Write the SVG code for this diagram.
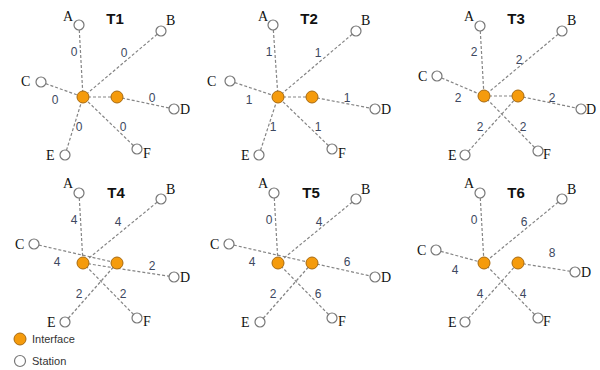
<svg xmlns="http://www.w3.org/2000/svg" width="600" height="370" viewBox="0 0 600 370">
<style>
.e{stroke:#858585;stroke-width:1.2;stroke-dasharray:3,2;fill:none}
.s{fill:#fff;stroke:#777;stroke-width:1.2}
.i{fill:#f59b0c;stroke:#a86a10;stroke-width:1}
.n{font-family:"Liberation Serif",serif;font-size:14px;fill:#111}
.t{font-family:"Liberation Sans",Arial,sans-serif;font-size:15px;font-weight:bold;fill:#111;text-anchor:middle}
.w{font-family:"Liberation Sans",Arial,sans-serif;font-size:12px;fill:#3d4860;text-anchor:middle}
.l{font-family:"Liberation Sans",Arial,sans-serif;font-size:11px;fill:#333}
</style>
<rect width="600" height="370" fill="#fff"/>
<g id="connectors">
<line class="e" x1="79" y1="25" x2="83" y2="97"/>
<line class="e" x1="161" y1="31" x2="83" y2="97"/>
<line class="e" x1="41" y1="82" x2="83" y2="97"/>
<line class="e" x1="83" y1="97" x2="117" y2="97"/>
<line class="e" x1="117" y1="97" x2="174" y2="109"/>
<line class="e" x1="65" y1="155" x2="83" y2="97"/>
<line class="e" x1="137" y1="149" x2="83" y2="97"/>
<line class="e" x1="273" y1="25" x2="278" y2="97"/>
<line class="e" x1="356" y1="31" x2="278" y2="97"/>
<line class="e" x1="230" y1="81" x2="278" y2="97"/>
<line class="e" x1="278" y1="97" x2="312" y2="97"/>
<line class="e" x1="312" y1="97" x2="375" y2="109"/>
<line class="e" x1="259" y1="155" x2="278" y2="97"/>
<line class="e" x1="332" y1="149" x2="278" y2="97"/>
<line class="e" x1="480" y1="26" x2="484" y2="96"/>
<line class="e" x1="562" y1="31" x2="484" y2="96"/>
<line class="e" x1="437" y1="76" x2="484" y2="96"/>
<line class="e" x1="484" y1="96" x2="518" y2="96"/>
<line class="e" x1="518" y1="96" x2="581" y2="109"/>
<line class="e" x1="465" y1="155" x2="518" y2="96"/>
<line class="e" x1="538" y1="151" x2="484" y2="96"/>
<line class="e" x1="79" y1="193" x2="83" y2="263"/>
<line class="e" x1="161" y1="199" x2="83" y2="263"/>
<line class="e" x1="34" y1="244" x2="117" y2="263"/>
<line class="e" x1="83" y1="263" x2="174" y2="277"/>
<line class="e" x1="65" y1="322" x2="117" y2="263"/>
<line class="e" x1="137" y1="318" x2="83" y2="263"/>
<line class="e" x1="274" y1="193" x2="278" y2="263"/>
<line class="e" x1="356" y1="199" x2="278" y2="263"/>
<line class="e" x1="229" y1="244" x2="312" y2="263"/>
<line class="e" x1="312" y1="263" x2="375" y2="277"/>
<line class="e" x1="260" y1="322" x2="312" y2="263"/>
<line class="e" x1="332" y1="318" x2="278" y2="263"/>
<line class="e" x1="480" y1="193" x2="484" y2="263"/>
<line class="e" x1="562" y1="199" x2="484" y2="263"/>
<line class="e" x1="436" y1="250" x2="484" y2="263"/>
<line class="e" x1="518" y1="263" x2="575" y2="272"/>
<line class="e" x1="465" y1="322" x2="518" y2="263"/>
<line class="e" x1="538" y1="318" x2="484" y2="263"/>
</g>
<g id="T1">
<text class="t" x="115" y="24">T1</text>
<circle class="s" cx="79" cy="25" r="5"/><text class="n" x="63" y="21">A</text>
<circle class="s" cx="161" cy="31" r="5"/><text class="n" x="166" y="25">B</text>
<circle class="s" cx="41" cy="82" r="5"/><text class="n" x="21" y="86">C</text>
<circle class="s" cx="174" cy="109" r="5"/><text class="n" x="180" y="114">D</text>
<circle class="s" cx="65" cy="155" r="5"/><text class="n" x="46" y="160">E</text>
<circle class="s" cx="137" cy="149" r="5"/><text class="n" x="143" y="158">F</text>
<circle class="i" cx="83" cy="97" r="6"/><circle class="i" cx="117" cy="97" r="6"/>
<text class="w" x="74" y="56">0</text><text class="w" x="124" y="57">0</text>
<text class="w" x="55" y="104">0</text><text class="w" x="152" y="102">0</text>
<text class="w" x="79" y="131">0</text><text class="w" x="123" y="131">0</text>
</g>
<g id="T2">
<text class="t" x="309" y="24">T2</text>
<circle class="s" cx="273" cy="25" r="5"/><text class="n" x="258" y="21">A</text>
<circle class="s" cx="356" cy="31" r="5"/><text class="n" x="361" y="25">B</text>
<circle class="s" cx="230" cy="81" r="5"/><text class="n" x="207" y="86">C</text>
<circle class="s" cx="375" cy="109" r="5"/><text class="n" x="381" y="114">D</text>
<circle class="s" cx="259" cy="155" r="5"/><text class="n" x="241" y="160">E</text>
<circle class="s" cx="332" cy="149" r="5"/><text class="n" x="338" y="158">F</text>
<circle class="i" cx="278" cy="97" r="6"/><circle class="i" cx="312" cy="97" r="6"/>
<text class="w" x="269" y="56">1</text><text class="w" x="318" y="57">1</text>
<text class="w" x="249" y="104">1</text><text class="w" x="347" y="102">1</text>
<text class="w" x="273" y="131">1</text><text class="w" x="318" y="131">1</text>
</g>
<g id="T3">
<text class="t" x="516" y="24">T3</text>
<circle class="s" cx="480" cy="26" r="5"/><text class="n" x="464" y="21">A</text>
<circle class="s" cx="562" cy="31" r="5"/><text class="n" x="567" y="25">B</text>
<circle class="s" cx="437" cy="76" r="5"/><text class="n" x="418" y="81">C</text>
<circle class="s" cx="581" cy="109" r="5"/><text class="n" x="586" y="114">D</text>
<circle class="s" cx="465" cy="155" r="5"/><text class="n" x="448" y="160">E</text>
<circle class="s" cx="538" cy="151" r="5"/><text class="n" x="543" y="159">F</text>
<circle class="i" cx="484" cy="96" r="6"/><circle class="i" cx="518" cy="96" r="6"/>
<text class="w" x="474" y="56">2</text><text class="w" x="519" y="64">2</text>
<text class="w" x="458" y="102">2</text><text class="w" x="552" y="102">2</text>
<text class="w" x="480" y="131">2</text><text class="w" x="523" y="131">2</text>
</g>
<g id="T4">
<text class="t" x="116" y="198">T4</text>
<circle class="s" cx="79" cy="193" r="5"/><text class="n" x="63" y="188">A</text>
<circle class="s" cx="161" cy="199" r="5"/><text class="n" x="166" y="194">B</text>
<circle class="s" cx="34" cy="244" r="5"/><text class="n" x="15" y="249">C</text>
<circle class="s" cx="174" cy="277" r="5"/><text class="n" x="180" y="282">D</text>
<circle class="s" cx="65" cy="322" r="5"/><text class="n" x="47" y="327">E</text>
<circle class="s" cx="137" cy="318" r="5"/><text class="n" x="143" y="326">F</text>
<circle class="i" cx="83" cy="263" r="6"/><circle class="i" cx="117" cy="263" r="6"/>
<text class="w" x="74" y="224">4</text><text class="w" x="118" y="226">4</text>
<text class="w" x="57" y="266">4</text><text class="w" x="152" y="270">2</text>
<text class="w" x="79" y="298">2</text><text class="w" x="123" y="298">2</text>
</g>
<g id="T5">
<text class="t" x="311" y="198">T5</text>
<circle class="s" cx="274" cy="193" r="5"/><text class="n" x="258" y="188">A</text>
<circle class="s" cx="356" cy="199" r="5"/><text class="n" x="361" y="194">B</text>
<circle class="s" cx="229" cy="244" r="5"/><text class="n" x="210" y="249">C</text>
<circle class="s" cx="375" cy="277" r="5"/><text class="n" x="381" y="282">D</text>
<circle class="s" cx="260" cy="322" r="5"/><text class="n" x="241" y="327">E</text>
<circle class="s" cx="332" cy="318" r="5"/><text class="n" x="338" y="326">F</text>
<circle class="i" cx="278" cy="263" r="6"/><circle class="i" cx="312" cy="263" r="6"/>
<text class="w" x="269" y="224">0</text><text class="w" x="319" y="226">4</text>
<text class="w" x="252" y="266">4</text><text class="w" x="347" y="266">6</text>
<text class="w" x="273" y="298">2</text><text class="w" x="318" y="298">6</text>
</g>
<g id="T6">
<text class="t" x="516" y="198">T6</text>
<circle class="s" cx="480" cy="193" r="5"/><text class="n" x="464" y="188">A</text>
<circle class="s" cx="562" cy="199" r="5"/><text class="n" x="567" y="194">B</text>
<circle class="s" cx="436" cy="250" r="5"/><text class="n" x="417" y="255">C</text>
<circle class="s" cx="575" cy="272" r="5"/><text class="n" x="581" y="277">D</text>
<circle class="s" cx="465" cy="322" r="5"/><text class="n" x="448" y="327">E</text>
<circle class="s" cx="538" cy="318" r="5"/><text class="n" x="543" y="326">F</text>
<circle class="i" cx="484" cy="263" r="6"/><circle class="i" cx="518" cy="263" r="6"/>
<text class="w" x="474" y="224">0</text><text class="w" x="524" y="226">6</text>
<text class="w" x="455" y="274">4</text><text class="w" x="552" y="257">8</text>
<text class="w" x="480" y="298">4</text><text class="w" x="523" y="298">4</text>
</g>
<g id="legend">
<circle class="i" cx="20" cy="339" r="6"/><text class="l" x="32" y="343">Interface</text>
<circle class="s" cx="20" cy="361" r="5.5"/><text class="l" x="32" y="365">Station</text>
</g>
</svg>
